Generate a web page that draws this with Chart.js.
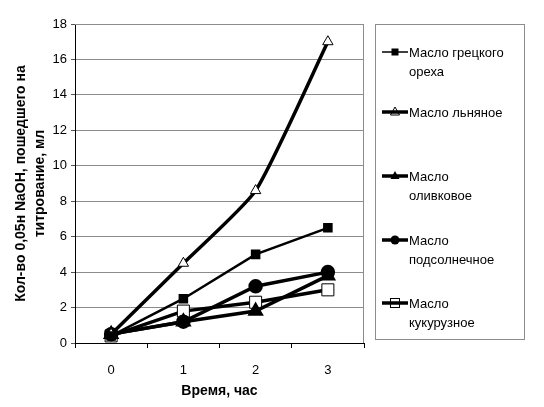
<!DOCTYPE html>
<html>
<head>
<meta charset="utf-8">
<script src="https://cdn.jsdelivr.net/npm/chart.js@4/dist/chart.umd.min.js"></script>
<style>
  html, body { margin: 0; padding: 0; background: #fff; }
  #wrap { position: relative; width: 544px; height: 407px; }
  #legend {
    position: absolute; left: 375px; top: 24px; width: 150px; height: 316px;
    border: 1px solid #8c8c8c; box-sizing: border-box;
    font-family: "Liberation Sans", Arial, sans-serif; font-size: 13px; color: #000;
  }
  .item { position: absolute; left: 6px; line-height: 19px; }
  .item svg { position: absolute; left: 0; top: 2px; }
  .item span { display: block; margin-left: 27px; }
</style>
</head>
<body>
<div id="wrap">
  <canvas id="grafico" width="544" height="407"></canvas>
  <div id="legend"></div>
</div>
<script>
// Datos del gráfico
const categorias = ['0', '1', '2', '3'];
const nogal = [0.4, 2.5, 5.0, 6.5];
const linaza = [0.5, 4.5, 8.6, 17.0];
const oliva = [0.5, 1.2, 1.8, 3.8];
const girasol = [0.5, 1.2, 3.2, 4.0];
const maiz = [0.4, 1.8, 2.3, 3.0];
const yMin = 0, yMax = 18, yPaso = 2;

const nombres = [
  ['Масло грецкого', 'ореха'],
  ['Масло льняное'],
  ['Масло', 'оливковое'],
  ['Масло', 'подсолнечное'],
  ['Масло', 'кукурузное']
];

// Borde gris arriba y a la derecha del área
const bordeArea = {
  id: 'bordeArea',
  beforeDatasetsDraw(chart) {
    const { ctx, chartArea: a } = chart;
    ctx.save();
    ctx.strokeStyle = '#8c8c8c';
    ctx.lineWidth = 1;
    ctx.beginPath();
    ctx.moveTo(a.left, a.top + 0.5);
    ctx.lineTo(a.right - 0.5, a.top + 0.5);
    ctx.lineTo(a.right - 0.5, a.bottom);
    ctx.stroke();
    ctx.restore();
  }
};

Chart.defaults.font.family = '"Liberation Sans", Arial, sans-serif';
Chart.defaults.color = '#000';

new Chart(document.getElementById('grafico'), {
  type: 'line',
  data: {
    labels: categorias,
    datasets: [
      { label: nombres[0].join(' '), data: nogal, borderColor: '#000', borderWidth: 2.5,
        pointStyle: 'rect', pointRadius: 5, pointBackgroundColor: '#000', pointBorderColor: '#000' },
      { label: nombres[1].join(' '), data: linaza, borderColor: '#000', borderWidth: 3.5, tension: 0.18,
        pointStyle: 'triangle', pointRadius: 6, pointBackgroundColor: '#fff', pointBorderColor: '#000', pointBorderWidth: 1 },
      { label: nombres[2].join(' '), data: oliva, borderColor: '#000', borderWidth: 3.5,
        pointStyle: 'triangle', pointRadius: 6, pointBackgroundColor: '#000', pointBorderColor: '#000' },
      { label: nombres[3].join(' '), data: girasol, borderColor: '#000', borderWidth: 3.5,
        pointStyle: 'circle', pointRadius: 5.5, pointBackgroundColor: '#000', pointBorderColor: '#000' },
      { label: nombres[4].join(' '), data: maiz, borderColor: '#000', borderWidth: 3.5,
        pointStyle: 'rect', pointRadius: 8.5, pointBackgroundColor: '#fff', pointBorderColor: '#000', pointBorderWidth: 1 }
    ]
  },
  options: {
    responsive: false,
    animation: false,
    layout: { padding: { left: 0, top: 24, right: 180, bottom: 0 } },
    plugins: {
      legend: { display: false },
      tooltip: { enabled: false }
    },
    scales: {
      x: {
        type: 'category',
        offset: true,
        afterFit(scale) { scale.height = 64; },
        grid: { display: true, offset: true, drawOnChartArea: false, drawTicks: true, tickLength: 5, tickColor: '#000' },
        border: { color: '#000', width: 1 },
        ticks: { font: { size: 13 }, padding: 15 },
        title: { display: true, text: 'Время, час', font: { size: 14, weight: 'bold' }, padding: { top: 0, bottom: 7 } }
      },
      y: {
        min: yMin,
        max: yMax,
        afterFit(scale) { scale.width = 75; },
        grid: { color: '#8c8c8c', tickLength: 4, tickColor: '#555' },
        border: { color: '#000', width: 1 },
        ticks: { stepSize: yPaso, font: { size: 13 }, padding: 4 },
        title: {
          display: true,
          text: ['Кол-во 0,05н NaOH, пошедшего на', 'титрование, мл'],
          font: { size: 14, weight: 'bold', lineHeight: 1.4 },
          padding: { top: 11, bottom: 0 }
        }
      }
    }
  },
  plugins: [bordeArea]
});

// Leyenda en HTML
const marcas = [
  '<line x1="0" y1="7" x2="26" y2="7" stroke="#000" stroke-width="1.5"/><rect x="9.5" y="3.5" width="7" height="7" fill="#000"/>',
  '<line x1="0" y1="7" x2="26" y2="7" stroke="#000" stroke-width="3.5"/><polygon points="13,2 17.5,10 8.5,10" fill="none" stroke="#000" stroke-width="1"/>',
  '<line x1="0" y1="7" x2="26" y2="7" stroke="#000" stroke-width="3.5"/><polygon points="13,2 17.5,10 8.5,10" fill="#000"/>',
  '<line x1="0" y1="7" x2="26" y2="7" stroke="#000" stroke-width="3.5"/><circle cx="13" cy="7" r="4.5" fill="#000"/>',
  '<line x1="0" y1="7" x2="26" y2="7" stroke="#000" stroke-width="3.5"/><rect x="8.5" y="2.5" width="9" height="9" fill="none" stroke="#000" stroke-width="1"/>'
];
const arribas = [18, 78, 142, 206, 269];
const leyenda = document.getElementById('legend');
nombres.forEach((n, i) => {
  const d = document.createElement('div');
  d.className = 'item';
  d.style.top = arribas[i] + 'px';
  d.innerHTML = '<svg width="26" height="14">' + marcas[i] + '</svg><span>' + n.join('<br>') + '</span>';
  leyenda.appendChild(d);
});
</script>
</body>
</html>
